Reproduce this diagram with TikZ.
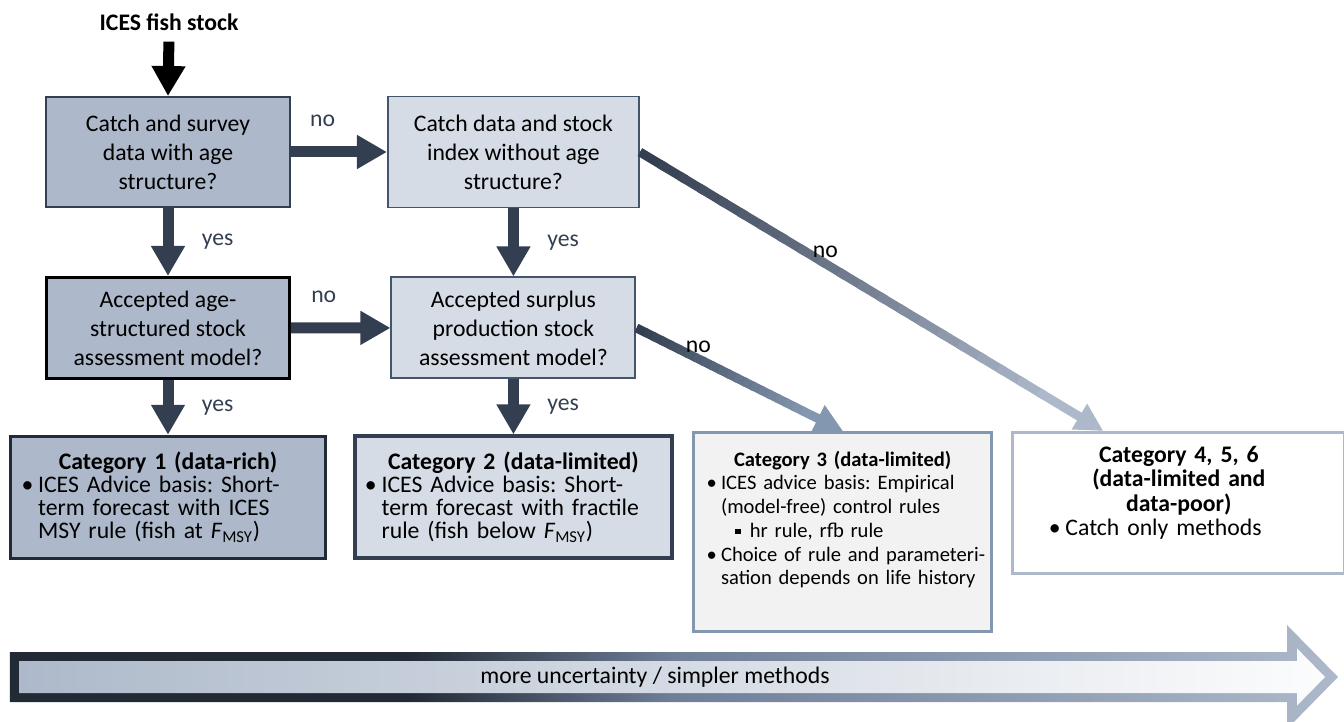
\documentclass[tikz,border=0pt]{standalone}
\usepackage{fontspec}
\setmainfont{Carlito}
\usepackage{tikz}
\usetikzlibrary{arrows.meta,positioning,calc}
\frenchspacing
\hbadness=10000
\hfuzz=2cm

\definecolor{navyd}{HTML}{333F50}
\definecolor{navyx}{HTML}{222A35}
\definecolor{slate}{HTML}{44546A}
\definecolor{bluegray}{HTML}{ADB9CA}
\definecolor{bluepale}{HTML}{D6DCE5}
\definecolor{bluemid}{HTML}{8497B0}
\definecolor{greypale}{HTML}{F2F2F2}
\definecolor{midrule}{HTML}{6F7F98}

\pgfdeclarehorizontalshading{rimshade}{100bp}{color(0bp)=(navyx); color(25bp)=(navyx); color(40bp)=(navyx); color(50bp)=(midrule); color(75bp)=(bluegray); color(100bp)=(bluegray)}

\newcommand{\fmsy}{\textit{F}\textsubscript{MSY}}
\newcommand{\cattitle}[1]{{\centering\bfseries #1\par}}
\newcommand{\catitem}[1]{{\raggedright\rightskip=-0.6cm plus 1fil\leftskip=0.7em\noindent\llap{\makebox[0.7em][l]{\textbullet}}#1\par}}
\newcommand{\catsub}[1]{{\raggedright\rightskip=-0.6cm plus 1fil\leftskip=2.1em\noindent\llap{\makebox[0.7em][l]{\raisebox{0.16em}{\rule{0.26em}{0.26em}}}}#1\par}}

\tikzstyle{txt} = [font=\fontsize{13.5}{16.5}\selectfont]
\tikzstyle{qbox} = [txt,align=center,inner sep=0,line width=1.1pt]
\tikzstyle{catbox} = [font=\fontsize{13.5}{13.1}\selectfont,inner sep=0,line width=1.9pt]
\tikzstyle{flow} = [navyd,line width=0.22cm,-{Triangle[length=0.6cm,width=0.64cm]}]
\tikzstyle{slant} = [line width=0.18cm]
\tikzstyle{lbl} = [txt]

\begin{document}
\begin{tikzpicture}
  \useasboundingbox (0,0) rectangle (26.88,-14.44);
  % questions
  \node[txt,font=\fontsize{13.5}{16.5}\selectfont\bfseries] (stock) at (3.38,-0.44) {ICES fish stock};
  \node[qbox,fill=bluegray,draw=navyd,minimum width=4.88cm,minimum height=2.2cm] (A) at (3.36,-3.04) {Catch and survey\\data with age\\structure?};
  \node[qbox,fill=bluepale,draw=slate,minimum width=5.02cm,minimum height=2.22cm,right=1.92cm of A] (B) {Catch data and stock\\index without age\\structure?};
  \node[qbox,fill=bluegray,draw=black,line width=1.6pt,minimum width=4.86cm,minimum height=2.02cm,below=1.36cm of A] (C) {Accepted age-\\structured stock\\assessment model?};
  \node[qbox,fill=bluepale,draw=slate,minimum width=4.88cm,minimum height=2.02cm,below=1.36cm of B] (D) {Accepted surplus\\production stock\\assessment model?};
  % categories
  \node[catbox,fill=bluegray,draw=navyx,minimum width=6.3cm,minimum height=2.44cm,text width=5.86cm,below=1.1cm of C] (E) {\cattitle{Category 1 (data-rich)}\catitem{ICES Advice basis: Short-\\term forecast with ICES\\MSY rule (fish at \fmsy)}};
  \node[catbox,fill=bluepale,draw=navyd,minimum width=6.34cm,minimum height=2.44cm,text width=5.94cm,below=1.1cm of D] (F) {\cattitle{Category 2 (data-limited)}\catitem{ICES Advice basis: Short-\\term forecast with fractile\\rule (fish below \fmsy)}};
  \node[catbox,font=\fontsize{11.7}{13.5}\selectfont,fill=greypale,draw=bluemid,minimum width=5.96cm,minimum height=3.98cm,text width=5.44cm,anchor=north west] (G) at (13.84,-8.62) {\cattitle{Category 3 (data-limited)}\catitem{ICES advice basis: Empirical\\(model-free) control rules}\catsub{hr rule, rfb rule}\catitem{Choice of rule and parameteri-\\sation depends on life history}\vspace*{0.1cm}\null};
  \node[catbox,font=\fontsize{13.5}{13.8}\selectfont,fill=white,draw=bluegray,line width=1.7pt,minimum width=6.64cm,minimum height=2.82cm,text width=5.2cm,anchor=north west] (H) at ($(G.north east)+(0.36,0)$) {\cattitle{Category 4, 5, 6\\(data-limited and\\data-poor)}\catitem{Catch only methods}\null};

  % yes / no arrows
  \draw[black,line width=0.22cm,-{Triangle[length=0.6cm,width=0.64cm]},shorten <=0.1cm] (stock.south) -- (A.north);
  \draw[flow] (A.east) -- (B.west) node[lbl,pos=0.33,above=0.28cm] {no};
  \draw[flow] (C.east) -- (D.west) node[lbl,pos=0.33,above=0.28cm] {no};
  \draw[flow] (A.south) -- (C.north) node[lbl,midway,right=0.45cm] {yes};
  \draw[flow] (B.south) -- (D.north) node[lbl,midway,right=0.45cm] {yes};
  \draw[flow] (C.south) -- (E.north) node[lbl,midway,right=0.45cm] {yes};
  \draw[flow] (D.south) -- (F.north) node[lbl,midway,right=0.45cm] {yes};

  % fading arrows
  \coordinate (gtip) at ([xshift=3.02cm]G.north west);
  \coordinate (htip) at ([xshift=1.84cm]H.north west);
  \foreach \i in {0,...,19}{
    \pgfmathsetmacro\ta{0.86*\i/20}
    \pgfmathsetmacro\tb{0.86*(\i+1.3)/20}
    \pgfmathtruncatemacro\p{100-5*\i}
    \draw[slant,draw=navyd!\p!bluegray] ($(B.east)!\ta!(htip)$) -- ($(B.east)!\tb!(htip)$);
  }
  \draw[slant,draw=bluegray,-{Triangle[length=0.56cm,width=0.56cm]}] ($(B.east)!0.86!(htip)$) -- (htip);
  \foreach \i in {0,...,19}{
    \pgfmathsetmacro\ta{0.8*\i/20}
    \pgfmathsetmacro\tb{0.8*(\i+1.3)/20}
    \pgfmathtruncatemacro\p{100-5*\i}
    \draw[slant,draw=navyd!\p!bluemid] ($(D.east)!\ta!(gtip)$) -- ($(D.east)!\tb!(gtip)$);
  }
  \draw[slant,draw=bluemid,-{Triangle[length=0.56cm,width=0.56cm]}] ($(D.east)!0.8!(gtip)$) -- (gtip);
  \path (B.east) -- (htip) node[lbl,pos=0.4,above=0cm] {no};
  \path (D.east) -- (gtip) node[lbl,pos=0.3,above=0cm] {no};

  % uncertainty arrow
  \shade[shading=rimshade] (0.2,-13.04) -- (25.74,-13.04) -- (25.74,-12.5) -- (26.76,-13.54) -- (25.74,-14.58) -- (25.74,-14.04) -- (0.2,-14.04) -- cycle;
  \shade[left color=bluegray,right color=white!96!bluegray] (0.38,-13.22) -- (25.94,-13.22) -- (25.94,-12.968) -- (26.5,-13.54) -- (25.94,-14.112) -- (25.94,-13.86) -- (0.38,-13.86) -- cycle;
  \node[txt] (scale) at (13.1,-13.54) {more uncertainty / simpler methods};
\end{tikzpicture}
\end{document}
